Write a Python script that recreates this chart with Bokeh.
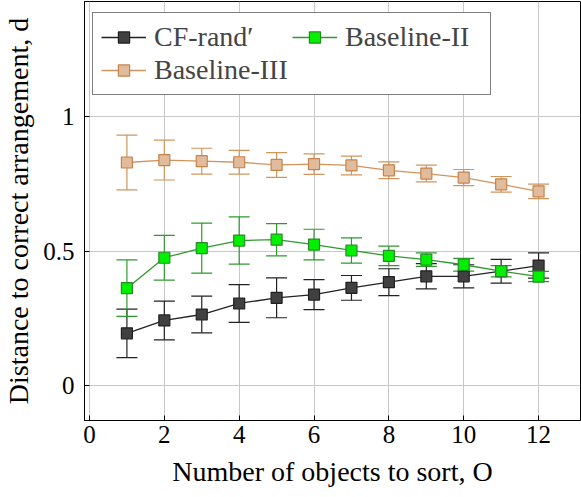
from bokeh.plotting import figure
from bokeh.models import (Range1d, FixedTicker, Whisker, TeeHead, ColumnDataSource,
                          Legend, LegendItem)
from bokeh.embed import file_html
from bokeh.resources import INLINE

objects = [1, 2, 3, 4, 5, 6, 7, 8, 9, 10, 11, 12]

cf_mean = [0.194, 0.242, 0.264, 0.305, 0.326, 0.338, 0.363, 0.384, 0.406, 0.406, 0.425, 0.446]
cf_err = [0.090, 0.072, 0.068, 0.070, 0.074, 0.056, 0.046, 0.050, 0.047, 0.043, 0.044, 0.047]

b2_mean = [0.362, 0.475, 0.511, 0.539, 0.542, 0.524, 0.502, 0.482, 0.468, 0.449, 0.425, 0.405]
b2_err = [0.105, 0.083, 0.093, 0.088, 0.060, 0.057, 0.047, 0.036, 0.025, 0.024, 0.021, 0.019]

b3_mean = [0.829, 0.838, 0.834, 0.830, 0.820, 0.823, 0.818, 0.800, 0.788, 0.773, 0.748, 0.722]
b3_err = [0.102, 0.074, 0.048, 0.044, 0.046, 0.038, 0.035, 0.031, 0.031, 0.030, 0.029, 0.027]

series = [
    ("CF-rand\u2032", cf_mean, cf_err, "#222222", "#404040", "#202020"),
    ("Baseline-II", b2_mean, b2_err, "#2f992f", "#00f000", "#2a8a2a"),
    ("Baseline-III", b3_mean, b3_err, "#d0945c", "#e0bc9c", "#c8824a"),
]

FONT = "Liberation Serif"

p = figure(width=581, height=497, output_backend="svg", toolbar_location=None,
           x_range=Range1d(-0.133, 13.12), y_range=Range1d(-0.130, 1.4275),
           min_border_left=83, min_border_right=1, min_border_top=1, min_border_bottom=77)

p.background_fill_color = "white"
p.border_fill_color = "white"
p.outline_line_color = "black"
p.outline_line_width = 1

p.xaxis.ticker = FixedTicker(ticks=[0, 2, 4, 6, 8, 10, 12])
p.yaxis.ticker = FixedTicker(ticks=[0, 0.5, 1])
p.yaxis.major_label_overrides = {0: "0", 0.5: "0.5", 1: "1"}
for ax in (p.xaxis, p.yaxis):
    ax.major_label_text_font = FONT
    ax.major_label_text_font_size = "25px"
    ax.axis_label_text_font = FONT
    ax.axis_label_text_font_size = "28px"
    ax.axis_label_text_font_style = "normal"
    ax.major_tick_in = 5
    ax.major_tick_out = 0
    ax.minor_tick_line_color = None
    ax.axis_line_color = "black"
    ax.major_label_text_color = "black"
    ax.axis_label_text_color = "black"
p.xaxis.axis_label = "Number of objects to sort, O"
p.yaxis.axis_label = "Distance to correct arrangement, d"
p.xaxis.major_label_standoff = 5
p.yaxis.major_label_standoff = 10
p.xaxis.axis_label_standoff = 10
p.yaxis.axis_label_standoff = 6

p.grid.grid_line_color = "#c8c8c8"
p.grid.grid_line_width = 1

items = {}
for name, mean, err, lc, fc, ec in series:
    lower = [m - e for m, e in zip(mean, err)]
    upper = [m + e for m, e in zip(mean, err)]
    src = ColumnDataSource(dict(x=objects, y=mean, lo=lower, hi=upper))
    w = Whisker(source=src, base="x", lower="lo", upper="hi", line_color=lc, line_width=1.2,
                upper_head=TeeHead(size=21, line_color=lc, line_width=1.2),
                lower_head=TeeHead(size=21, line_color=lc, line_width=1.2))
    p.add_layout(w)
    r1 = p.line("x", "y", source=src, line_color=lc, line_width=1.3)
    r2 = p.scatter("x", "y", source=src, marker="square", size=11, fill_color=fc,
                   line_color=ec, line_width=1.2)
    items[name] = LegendItem(label=name, renderers=[r1, r2])

# column-major fill: column 1 = CF-rand', Baseline-III ; column 2 = Baseline-II
legend = Legend(items=[items["CF-rand\u2032"], items["Baseline-III"], items["Baseline-II"]],
                location=(8, 325), nrows=2,
                label_text_font=FONT, label_text_font_size="28px",
                glyph_width=45, glyph_height=28, label_standoff=8, spacing=1,
                label_width=137, padding=8, margin=0,
                border_line_color="black", border_line_width=1,
                background_fill_color="white", background_fill_alpha=1.0)
p.add_layout(legend)

open("out.html", "w").write(file_html(p, INLINE))
